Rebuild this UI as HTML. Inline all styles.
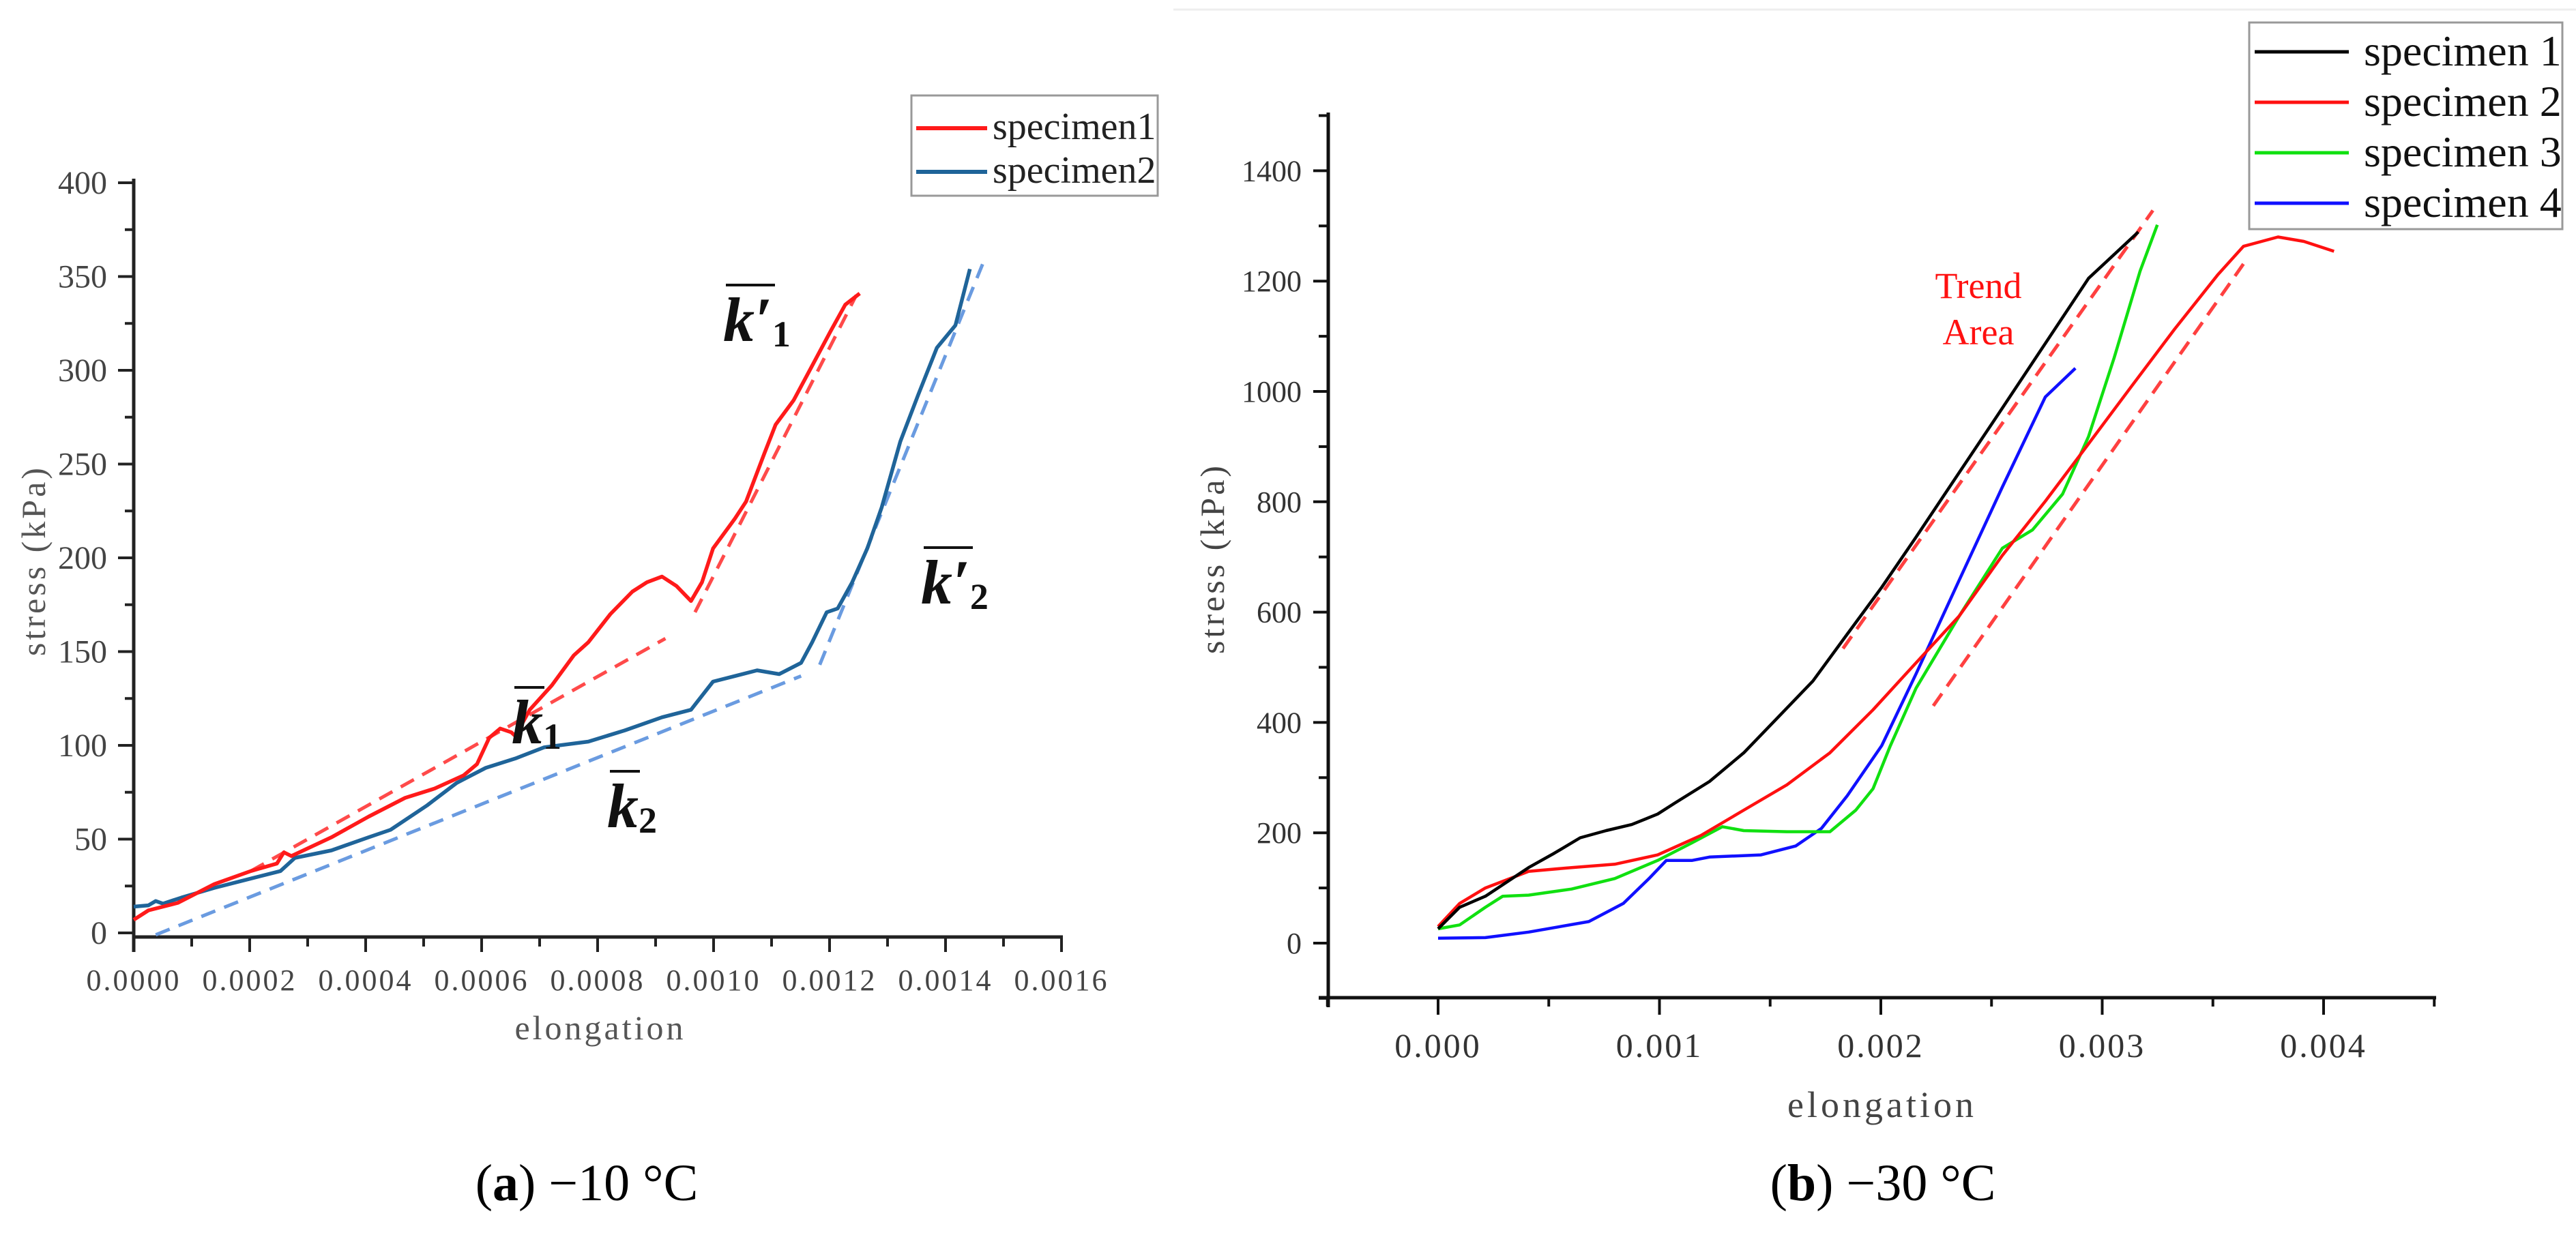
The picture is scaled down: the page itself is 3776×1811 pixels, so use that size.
<!DOCTYPE html>
<html><head><meta charset="utf-8"><style>
html,body{margin:0;padding:0;background:#fff}
svg{display:block}
text{font-family:"Liberation Serif",serif}
</style></head><body>
<svg id="fig" width="3776" height="1811" viewBox="0 0 3776 1811" xmlns="http://www.w3.org/2000/svg">
<line x1="1720" y1="14" x2="3776" y2="14" stroke="#eee" stroke-width="3"/>
<g id="chartA"></g>
<g id="chartB"></g>
<text x="860" y="1760" font-size="76" text-anchor="middle">(<tspan font-weight="bold">a</tspan>) −10 °C</text>
<text x="2760" y="1760" font-size="76" text-anchor="middle">(<tspan font-weight="bold">b</tspan>) −30 °C</text>
</svg>
<script>
// ---- Chart A data ----
const aXTicks = [0,0.0002,0.0004,0.0006,0.0008,0.0010,0.0012,0.0014,0.0016];
const aXTickLabels = ["0.0000","0.0002","0.0004","0.0006","0.0008","0.0010","0.0012","0.0014","0.0016"];
const aYTicks = [0,50,100,150,200,250,300,350,400];
const aS1x = [0,.0000253,.0000759,.000139,.000202,.000247,.000259,.000272,.000341,.000405,.000468,.000519,.000569,.000592,.000613,.000632,.000651,.000658,.000683,.000721,.000759,.000784,.000822,.000860,.000885,.000911,.000936,.000961,.000980,.000999,.001037,.001056,.001088,.001107,.001138,.001164,.001202,.001227,.001252];
const aS1y = [7,12,16,26,33,37,43,41,51,62,72,77,84,90,104,109,107,105,119,132,148,155,170,182,187,190,185,177,187,205,221,230,256,271,284,299,321,335,341];
const aS2x = [0,.0000253,.000038,.0000506,.000082,.000139,.000202,.000253,.000278,.000341,.000405,.000443,.000506,.000557,.000607,.000658,.000708,.000784,.000847,.000911,.000961,.000999,.001037,.001075,.001113,.001151,.001170,.001195,.001214,.001239,.001265,.001290,.001322,.001353,.001385,.001417,.001442];
const aS2y = [14,14.7,17,15.6,18.8,24,29,33,40,44,51,55,68,80,88,93,99,102,108,115,119,134,137,140,138,144,155,171,173,187,205,227,262,287,312,324,354];
const aK1x = [.000202,.000917], aK1y = [33,157];
const aKp1x = [.000968,.001246], aKp1y = [171,340];
const aK2x = [.000038,.001151], aK2y = [-1,137];
const aKp2x = [.001183,.001467], aKp2y = [143,359];

// ---- Chart B data ----
const bXTicks = [0,0.001,0.002,0.003,0.004];
const bXTickLabels = ["0.000","0.001","0.002","0.003","0.004"];
const bYTicks = [0,200,400,600,800,1000,1200,1400];
const bS1x = [0,.0000973,.000214,.000409,.000525,.000642,.000759,.000875,.000992,.00107,.001226,.001381,.001537,.001693,.001848,.002004,.002159,.002354,.002549,.002743,.002938,.003163];
const bS1y = [26,65,85,137,163,191,204,215,234,254,293,345,410,475,560,645,736,853,970,1087,1205,1289];
const bS2x = [0,.0000973,.000214,.000409,.000603,.000798,.000992,.001187,.001381,.001576,.00177,.001965,.002159,.002354,.002549,.002743,.002938,.003132,.003327,.003521,.003638,.003794,.003911,.004047];
const bS2y = [30,72,100,130,137,143,160,195,241,287,345,423,508,593,703,801,905,1009,1113,1211,1263,1280,1272,1254];
const bS3x = [0,.0000973,.000214,.000292,.000409,.000603,.000798,.000992,.001148,.001284,.001381,.001576,.00177,.001887,.001965,.002043,.002159,.002354,.002549,.002685,.002821,.002938,.003054,.003171,.003249];
const bS3y = [26,33,65,85,87,98,117,150,182,211,204,202,202,241,280,358,462,593,716,749,814,918,1061,1218,1302];
const bS4x = [0,.000214,.000409,.000681,.000837,.000953,.001031,.001148,.001226,.001459,.001615,.001732,.001848,.002004,.002159,.002354,.002549,.002743,.002879];
const bS4y = [9,10,20,39,72,117,150,150,156,160,176,208,267,358,488,658,827,990,1042];
const bTrendUx = [.001829,.003229], bTrendUy = [534,1328];
const bTrendLx = [.002237,.003638], bTrendLy = [430,1231];

const NS = "http://www.w3.org/2000/svg";
function mk(parent, tag, attrs){ const e=document.createElementNS(NS,tag); for(const k in attrs) e.setAttribute(k,attrs[k]); parent.appendChild(e); return e; }
function pathFrom(xs, ys, sx, sy){ return xs.map((v,i)=>(i?'L':'M')+sx(v).toFixed(1)+','+sy(ys[i]).toFixed(1)).join(' '); }

// ===== Chart A =====
(function(){
  const g = document.getElementById('chartA');
  const sx = v => 196 + v*850000;
  const sy = v => 1368 - v*2.75;
  let e = mk(g,'line',{x1:196,y1:262,x2:196,y2:1396,stroke:'#222','stroke-width':5});
   
  e = mk(g,'line',{x1:194,y1:1374,x2:1558,y2:1374,stroke:'#222','stroke-width':5});
   
  for(let v=0; v<=400; v+=25){
    const major = v%50===0;
    const t = mk(g,'line',{x1:major?173:183,y1:sy(v),x2:196,y2:sy(v),stroke:'#222','stroke-width':4});
     
  }
  aYTicks.forEach(v=>{
    const t = mk(g,'text',{x:157,y:sy(v)+16,'font-size':48,fill:'#444','text-anchor':'end'});
    t.textContent = v;
     
  });
  for(let i=0;i<=16;i++){
    const v=i*0.0001, major=i%2===0;
    const t = mk(g,'line',{x1:sx(v),y1:1374,x2:sx(v),y2:major?1396:1388,stroke:'#222','stroke-width':4});
     
  }
  aXTicks.forEach((v,i)=>{
    const t = mk(g,'text',{x:sx(v),y:1452,'font-size':44,fill:'#444','text-anchor':'middle','letter-spacing':3});
    t.textContent = aXTickLabels[i];
     
  });
  let t = mk(g,'text',{x:880,y:1524,'font-size':50,fill:'#555','text-anchor':'middle','letter-spacing':4});
  t.textContent='elongation';  
  t = mk(g,'text',{x:0,y:0,'font-size':50,fill:'#555','text-anchor':'middle','letter-spacing':4,transform:'translate(66,822) rotate(-90)'});
  t.textContent='stress (kPa)';  
  [[aK1x,aK1y,'#ff4a4a','a-fit-k1'],[aKp1x,aKp1y,'#ff4a4a','a-fit-kp1'],[aK2x,aK2y,'#6a9be0','a-fit-k2'],[aKp2x,aKp2y,'#6a9be0','a-fit-kp2']].forEach(d=>{
    const p = mk(g,'path',{d:pathFrom(d[0],d[1],sx,sy),stroke:d[2],'stroke-width':5,fill:'none','stroke-dasharray':'22 14'});
     
  });
  let p = mk(g,'path',{d:pathFrom(aS2x,aS2y,sx,sy),stroke:'#1f6499','stroke-width':5.5,fill:'none','stroke-linejoin':'round'});
   
  p = mk(g,'path',{d:pathFrom(aS1x,aS1y,sx,sy),stroke:'#ff1a1a','stroke-width':5.5,fill:'none','stroke-linejoin':'round'});
   
  const labs = [['k′','1',1060,500,'a-label-kp1'],['k','1',750,1090,'a-label-k1'],['k','2',890,1213,'a-label-k2'],['k′','2',1350,885,'a-label-kp2']];
  labs.forEach(l=>{
    const tt = mk(g,'text',{x:l[2],y:l[3],'font-size':92,'font-weight':'bold','font-style':'italic',fill:'#111'});
    tt.innerHTML = l[0]+'<tspan font-size="54" font-style="normal" dy="8">'+l[1]+'</tspan>';
     
    const w = l[0].length>1?72:44;
    const ol = mk(g,'line',{x1:l[2]+4,y1:l[3]-82,x2:l[2]+4+w,y2:l[3]-82,stroke:'#111','stroke-width':4});
     
  });
  const lg = mk(g,'g',{});  
  mk(lg,'rect',{x:1336,y:140,width:361,height:147,fill:'#fff',stroke:'#999','stroke-width':3});
  [['#ff1a1a','specimen1',188],['#1f6499','specimen2',252]].forEach(r=>{
    const l = mk(lg,'line',{x1:1343,y1:r[2],x2:1447,y2:r[2],stroke:r[0],'stroke-width':6});
     
    const tt = mk(lg,'text',{x:1455,y:r[2]+16,'font-size':56,fill:'#222'}); tt.textContent=r[1];
     
  });
})();

// ===== Chart B =====
(function(){
  const g = document.getElementById('chartB');
  const sx = v => 2108 + v*324500;
  const sy = v => 1383 - v*0.809;
  let e = mk(g,'line',{x1:1947,y1:165,x2:1947,y2:1477,stroke:'#111','stroke-width':5});
   
  e = mk(g,'line',{x1:1933,y1:1463,x2:3571,y2:1463,stroke:'#111','stroke-width':5});
   
  for(let v=-100; v<=1500; v+=100){
    const major = v%200===0 && v>=0 && v<=1400;
    const t = mk(g,'line',{x1:major?1925:1933,y1:sy(v),x2:1947,y2:sy(v),stroke:'#111','stroke-width':4});
     
  }
  bYTicks.forEach(v=>{
    const t = mk(g,'text',{x:1908,y:sy(v)+15,'font-size':44,fill:'#333','text-anchor':'end'});
    t.textContent = v;
     
  });
  for(let i=-1;i<=9;i++){
    const v=i*0.0005, major=i%2===0 && i>=0 && i<=8;
    const t = mk(g,'line',{x1:sx(v),y1:1463,x2:sx(v),y2:major?1488:1476,stroke:'#111','stroke-width':4});
     
  }
  bXTicks.forEach((v,i)=>{
    const t = mk(g,'text',{x:sx(v),y:1550,'font-size':50,fill:'#333','text-anchor':'middle','letter-spacing':3});
    t.textContent = bXTickLabels[i];
     
  });
  let t = mk(g,'text',{x:2759,y:1638,'font-size':54,fill:'#444','text-anchor':'middle','letter-spacing':5});
  t.textContent='elongation';  
  t = mk(g,'text',{x:0,y:0,'font-size':50,fill:'#444','text-anchor':'middle','letter-spacing':4,transform:'translate(1794,819) rotate(-90)'});
  t.textContent='stress (kPa)';  
  [[bTrendUx,bTrendUy,'b-trend-upper'],[bTrendLx,bTrendLy,'b-trend-lower']].forEach(d=>{
    const p = mk(g,'path',{d:pathFrom(d[0],d[1],sx,sy),stroke:'#ff4040','stroke-width':5,fill:'none','stroke-dasharray':'22 13'});
     
  });
  [[bS4x,bS4y,'#1010ff','b-line-specimen4'],[bS3x,bS3y,'#10e010','b-line-specimen3'],[bS2x,bS2y,'#ff1010','b-line-specimen2'],[bS1x,bS1y,'#000','b-line-specimen1']].forEach(d=>{
    const p = mk(g,'path',{d:pathFrom(d[0],d[1],sx,sy),stroke:d[2],'stroke-width':4.5,fill:'none','stroke-linejoin':'round'});
     
  });
  t = mk(g,'text',{x:2900,y:437,'font-size':54,fill:'#ff1010','text-anchor':'middle'});
  t.textContent='Trend';  
  t = mk(g,'text',{x:2900,y:505,'font-size':54,fill:'#ff1010','text-anchor':'middle'});
  t.textContent='Area';  
  const lg = mk(g,'g',{});  
  mk(lg,'rect',{x:3297,y:33,width:459,height:303,fill:'#fff',stroke:'#999','stroke-width':3});
  [['#000','specimen 1',76],['#ff1010','specimen 2',150],['#10e010','specimen 3',224],['#1010ff','specimen 4',298]].forEach(r=>{
    const l = mk(lg,'line',{x1:3305,y1:r[2],x2:3443,y2:r[2],stroke:r[0],'stroke-width':5});
     
    const tt = mk(lg,'text',{x:3465,y:r[2]+20,'font-size':64,fill:'#111'}); tt.textContent=r[1];
     
  });
})();
</script>
</body></html>
